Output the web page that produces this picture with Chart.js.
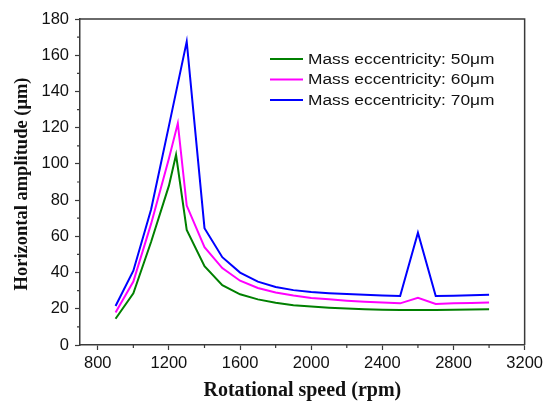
<!DOCTYPE html>
<html>
<head>
<meta charset="utf-8">
<script src="https://cdn.jsdelivr.net/npm/chart.js@4/dist/chart.umd.min.js"></script>
<style>
  html, body { margin: 0; padding: 0; background: #fff; }
  #wrap { width: 547px; height: 403px; position: relative; }
</style>
</head>
<body>
<div id="wrap"><canvas id="c" width="547" height="403"></canvas></div>
<script>
// ---- data ----
const seriesLabels = ['Mass eccentricity: 50\u03bcm', 'Mass eccentricity: 60\u03bcm', 'Mass eccentricity: 70\u03bcm'];
const seriesColors = ['#008000', '#ff00ff', '#0000ff'];

const speed50 = [900, 1000, 1100, 1200, 1240, 1300, 1400, 1500, 1600, 1700, 1800, 1900, 2000, 2100, 2200, 2300, 2400, 2500, 2600, 2700, 2800, 2900, 3000];
const amp50   = [14.5, 28.5, 57, 88, 105, 63.5, 43.5, 33, 28, 25.2, 23.3, 22, 21.2, 20.6, 20.2, 19.8, 19.5, 19.3, 19.3, 19.3, 19.4, 19.6, 19.8];

const speed60 = [900, 1000, 1100, 1200, 1250, 1300, 1400, 1500, 1600, 1700, 1800, 1900, 2000, 2100, 2200, 2300, 2400, 2500, 2600, 2700, 2800, 2900, 3000];
const amp60   = [18, 35, 67, 103, 122.4, 77, 54, 42.5, 35.5, 31.5, 29, 27.3, 26, 25.2, 24.5, 23.9, 23.4, 23, 26, 22.7, 23, 23.2, 23.4];

const speed70 = [900, 1000, 1100, 1200, 1300, 1400, 1500, 1600, 1700, 1800, 1900, 2000, 2100, 2200, 2300, 2400, 2500, 2600, 2700, 2800, 2900, 3000];
const amp70   = [21.5, 41, 75, 121, 167.5, 64.5, 48.5, 40, 35, 32, 30.3, 29.3, 28.6, 28.1, 27.7, 27.3, 27, 62, 27, 27.2, 27.5, 27.8];

const xTicks = [800, 1200, 1600, 2000, 2400, 2800, 3200];
const xMinorTicks = [1000, 1400, 1800, 2200, 2600, 3000];
const yTicks = [0, 20, 40, 60, 80, 100, 120, 140, 160, 180];
const yMinorTicks = [10, 30, 50, 70, 90, 110, 130, 150, 170];

const xTitle = 'Rotational speed (rpm)';
const yTitle = 'Horizontal amplitude (\u03bcm)';

function pts(xs, ys) { return xs.map((x, i) => ({ x: x, y: ys[i] })); }

const AXIS = '#3a3a3a';
const SANS = '"Liberation Sans", Arial, sans-serif';
const SERIF = '"Liberation Serif", "Times New Roman", serif';

const framePlugin = {
  id: 'frame',
  afterDraw(chart) {
    const { ctx, chartArea: a, scales } = chart;
    ctx.save();
    // frame top/right
    ctx.strokeStyle = AXIS;
    ctx.lineWidth = 1.5;
    ctx.beginPath();
    ctx.moveTo(a.left, a.top);
    ctx.lineTo(a.right, a.top);
    ctx.lineTo(a.right, a.bottom);
    ctx.stroke();
    // minor ticks
    ctx.lineWidth = 1.2;
    ctx.beginPath();
    xMinorTicks.forEach(v => {
      const px = scales.x.getPixelForValue(v);
      ctx.moveTo(px, a.bottom);
      ctx.lineTo(px, a.bottom + 3);
    });
    yMinorTicks.forEach(v => {
      const py = scales.y.getPixelForValue(v);
      ctx.moveTo(a.left, py);
      ctx.lineTo(a.left - 3, py);
    });
    ctx.stroke();
    // y axis title
    ctx.save();
    ctx.translate(22, 184);
    ctx.rotate(-Math.PI / 2);
    ctx.font = 'bold 18.5px ' + SERIF;
    ctx.textAlign = 'center';
    ctx.textBaseline = 'middle';
    ctx.fillStyle = '#111';
    ctx.fillText(yTitle, 0, 0);
    ctx.restore();
    // legend inside plot
    const lx = 270, ly = 59, step = 20.5;
    chart.data.datasets.forEach((ds, i) => {
      const y = ly + i * step;
      ctx.strokeStyle = ds.borderColor;
      ctx.lineWidth = 2;
      ctx.beginPath();
      ctx.moveTo(lx, y);
      ctx.lineTo(lx + 33, y);
      ctx.stroke();
      ctx.save();
      ctx.translate(lx + 38, y + 0.5);
      ctx.scale(1.12, 1);
      ctx.font = '15.5px ' + SANS;
      ctx.textBaseline = 'middle';
      ctx.textAlign = 'left';
      ctx.fillStyle = '#111';
      ctx.fillText(ds.label, 0, 0);
      ctx.restore();
    });
    ctx.restore();
  }
};

new Chart(document.getElementById('c'), {
  type: 'line',
  data: {
    datasets: [
      { label: seriesLabels[0], data: pts(speed50, amp50), borderColor: seriesColors[0] },
      { label: seriesLabels[1], data: pts(speed60, amp60), borderColor: seriesColors[1] },
      { label: seriesLabels[2], data: pts(speed70, amp70), borderColor: seriesColors[2] }
    ].map(d => Object.assign(d, { borderWidth: 2, pointRadius: 0, tension: 0, fill: false }))
  },
  options: {
    responsive: false,
    animation: false,
    events: [],
    layout: { padding: { left: 0, right: 22, top: 19, bottom: 0 } },
    plugins: { legend: { display: false }, tooltip: { enabled: false } },
    scales: {
      x: {
        type: 'linear',
        min: 700, max: 3200,
        afterBuildTicks: s => { s.ticks = xTicks.map(v => ({ value: v })); },
        afterFit: s => { s.height = 58; },
        grid: { drawOnChartArea: false, drawTicks: true, tickLength: 5, color: AXIS, tickWidth: 1.2 },
        border: { display: true, color: AXIS, width: 1.5 },
        ticks: { color: '#111', font: { family: SANS, size: 16.5 }, padding: 4, maxRotation: 0, callback: v => String(v) },
        title: { display: true, text: xTitle, color: '#111', font: { family: SERIF, size: 20, weight: 'bold' }, padding: { top: 0, bottom: 0 } }
      },
      y: {
        type: 'linear',
        min: 0, max: 180,
        afterBuildTicks: s => { s.ticks = yTicks.map(v => ({ value: v })); },
        afterFit: s => { s.width = 80; },
        grid: { drawOnChartArea: false, drawTicks: true, tickLength: 5, color: AXIS, tickWidth: 1.2 },
        border: { display: true, color: AXIS, width: 1.5 },
        ticks: { color: '#111', font: { family: SANS, size: 16.5 }, padding: 6, callback: v => String(v) },
        title: { display: false }
      }
    }
  },
  plugins: [framePlugin]
});
</script>
</body>
</html>
